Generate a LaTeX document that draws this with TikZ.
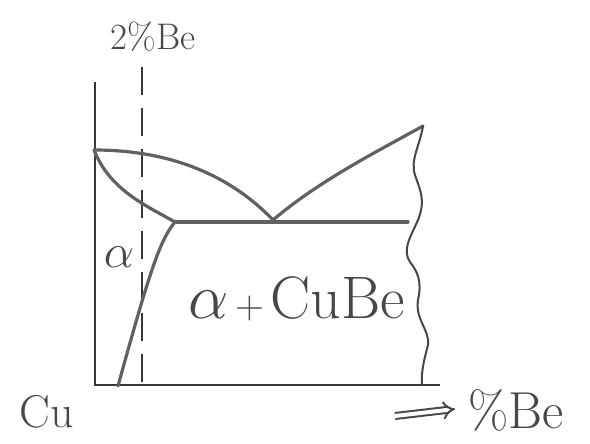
\RequirePackage{fix-cm}
\documentclass[tikz,border=0pt]{standalone}
\usetikzlibrary{arrows.meta}
\begin{document}
\begin{tikzpicture}[x=1pt,y=-1pt,
  axisline/.style={draw=black!78, line width=2pt},
  phaseline/.style={draw=black!62, line width=3.2pt, line cap=round, line join=round},
  dashline/.style={draw=black!78, line width=1.8pt, dash pattern=on 28pt off 13pt},
  lbl/.style={text=black!72, inner sep=0pt}]
\useasboundingbox[fill=white] (0,0) rectangle (590,444);
% key points
\coordinate (ytop) at (95,82);
\coordinate (orig) at (95,385);
\coordinate (xend) at (440,385);
\coordinate (cumelt) at (94,150);
\coordinate (eut) at (273,220);
\coordinate (solend) at (175,222);
\coordinate (eutend) at (408,222);
\coordinate (rtop) at (423,126);
\coordinate (rbot) at (422,385);
\coordinate (solvbot) at (118,386);
\coordinate (dtop) at (142,67);
\coordinate (dbot) at (142,385);
% axes
\draw[axisline] (ytop) -- (orig) -- (xend);
% 2% Be dashed line
\draw[dashline] (dtop) -- (dbot);
% liquidus
\draw[phaseline] (cumelt) .. controls (170,150) and (230,175) .. (eut);
\draw[phaseline] (eut) .. controls (320,180) and (380,150) .. (rtop);
% solidus
\draw[phaseline] (cumelt) .. controls (110,190) and (145,205) .. (solend);
% eutectic horizontal
\draw[phaseline] (solend) -- (eutend);
% solvus
\draw[phaseline] (solend) .. controls (160,240) and (150,270) .. (solvbot);
% wavy right boundary
\draw[draw=black!72, line width=2pt, line cap=round]
  (rtop) .. controls (420,145) and (410,160) .. (415,175)
  .. controls (420,190) and (426,200) .. (418,220)
  .. controls (410,238) and (402,250) .. (410,262)
  .. controls (418,272) and (422,282) .. (418,300)
  .. controls (415,320) and (430,330) .. (428,345)
  .. controls (424,360) and (421,372) .. (rbot);
% labels
\node[lbl, font=\fontsize{37}{37}\selectfont] (be2) at (153,37) {2\%Be};
\node[lbl, font=\fontsize{48}{48}\selectfont] (alpha) at (119,257) {$\alpha$};
\node[lbl, anchor=base west] (mix) at (188,318)
  {{\fontsize{64}{64}\selectfont$\alpha$}{\fontsize{40}{40}\selectfont\,+\,}{\fontsize{60}{60}\selectfont CuBe}};
\node[lbl, font=\fontsize{46}{46}\selectfont] (cu) at (47,412) {Cu};
\node[lbl, font=\fontsize{52}{52}\selectfont] (pbe) at (516,410) {\%Be};
\coordinate (arrs) at (395,416);
\coordinate (arre) at (455,409);
\draw[draw=black!72, line width=2pt, -{Implies[]}, double distance=4pt] (arrs) -- (arre);
\end{tikzpicture}
\end{document}
